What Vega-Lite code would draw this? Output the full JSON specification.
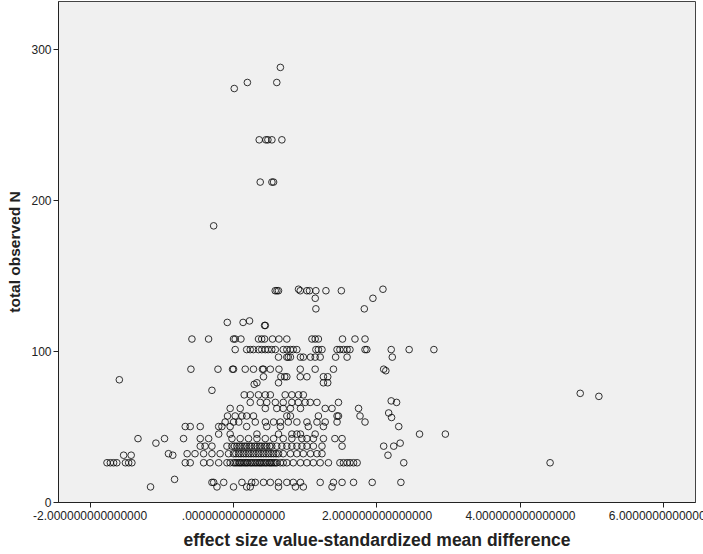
{
"$schema": "https://vega.github.io/schema/vega-lite/v6.json",
"autosize": {"type": "none"},
"padding": {"left": 58, "top": 1, "right": 8, "bottom": 51},
"width": 637,
"height": 501,
"background": "white",
"config": {
  "view": {"fill": "#f0f0f0", "stroke": "#444444", "strokeWidth": 1},
  "axis": {
    "grid": false,
    "domainColor": "#222222",
    "tickColor": "#222222",
    "tickSize": 5,
    "labelFont": "Liberation Sans",
    "labelFontSize": 12,
    "labelColor": "#222222",
    "labelFlush": false,
    "labelOverlap": false,
    "titleFont": "Liberation Sans",
    "titleFontWeight": "bold",
    "titleColor": "#222222"
  }
},
"data": {"values": [
{"d":0.66,"n":288},{"d":0.20,"n":278},{"d":0.017,"n":274},{"d":0.61,"n":278},
{"d":0.365,"n":240},{"d":0.458,"n":240},{"d":0.486,"n":240},{"d":0.542,"n":240},{"d":0.681,"n":240},
{"d":0.379,"n":212},{"d":0.542,"n":212},{"d":0.565,"n":212},
{"d":-0.27,"n":183},
{"d":0.588,"n":140},{"d":0.612,"n":140},{"d":0.634,"n":140},{"d":0.913,"n":141},{"d":0.937,"n":140},{"d":1.03,"n":140},{"d":1.066,"n":140},{"d":1.155,"n":140},{"d":1.295,"n":140},{"d":1.146,"n":135},{"d":1.51,"n":140},{"d":2.09,"n":141},{"d":1.95,"n":135},{"d":1.83,"n":128},{"d":1.155,"n":128},
{"d":-0.08,"n":119},{"d":0.14,"n":119},{"d":0.23,"n":120},{"d":0.44,"n":117},{"d":0.45,"n":117},
{"d":-0.573,"n":108},{"d":-0.341,"n":108},{"d":0.007,"n":108},{"d":0.03,"n":108},{"d":0.11,"n":108},{"d":0.355,"n":108},{"d":0.40,"n":108},{"d":0.44,"n":108},{"d":0.55,"n":108},{"d":0.64,"n":108},{"d":0.75,"n":108},{"d":1.10,"n":108},{"d":1.145,"n":108},{"d":1.19,"n":108},{"d":1.526,"n":108},{"d":1.70,"n":108},{"d":1.84,"n":108},
{"d":0.03,"n":101},{"d":0.19,"n":101},{"d":0.24,"n":101},{"d":0.285,"n":101},{"d":0.355,"n":101},{"d":0.40,"n":101},{"d":0.45,"n":101},{"d":0.49,"n":101},{"d":0.54,"n":101},{"d":0.59,"n":101},{"d":0.70,"n":101},{"d":0.75,"n":101},{"d":0.80,"n":101},{"d":0.84,"n":101},{"d":0.89,"n":101},{"d":1.155,"n":101},{"d":1.19,"n":101},{"d":1.24,"n":101},{"d":1.45,"n":101},{"d":1.49,"n":101},{"d":1.54,"n":101},{"d":1.59,"n":101},{"d":1.63,"n":101},{"d":1.84,"n":101},{"d":1.865,"n":101},{"d":2.205,"n":101},{"d":2.455,"n":101},{"d":2.80,"n":101},
{"d":0.634,"n":96},{"d":0.75,"n":96},{"d":0.77,"n":96},{"d":0.80,"n":96},{"d":0.94,"n":96},{"d":0.98,"n":96},{"d":1.08,"n":96},{"d":1.145,"n":96},{"d":1.215,"n":96},{"d":1.43,"n":96},{"d":1.59,"n":96},{"d":2.22,"n":96},
{"d":-0.587,"n":88},{"d":-0.21,"n":88},{"d":-0.007,"n":88},{"d":0.007,"n":88},{"d":0.17,"n":88},{"d":0.285,"n":88},{"d":0.41,"n":88},{"d":0.425,"n":88},{"d":0.52,"n":88},{"d":0.64,"n":88},{"d":0.937,"n":88},{"d":1.145,"n":88},{"d":1.40,"n":88},{"d":2.10,"n":88},{"d":2.13,"n":87},
{"d":0.425,"n":83},{"d":0.667,"n":83},{"d":0.72,"n":83},{"d":0.75,"n":83},{"d":0.937,"n":83},{"d":1.03,"n":83},{"d":1.26,"n":83},{"d":1.32,"n":83},
{"d":0.333,"n":79},{"d":0.295,"n":78},{"d":0.634,"n":79},{"d":1.26,"n":79},{"d":1.32,"n":79},
{"d":-0.294,"n":74},{"d":-1.585,"n":81},
{"d":0.156,"n":71},{"d":0.24,"n":71},{"d":0.355,"n":71},{"d":0.45,"n":71},{"d":0.52,"n":71},{"d":0.727,"n":71},{"d":0.82,"n":71},{"d":0.913,"n":71},{"d":0.98,"n":71},
{"d":0.24,"n":66},{"d":0.38,"n":66},{"d":0.47,"n":66},{"d":0.59,"n":66},{"d":0.70,"n":66},{"d":0.82,"n":66},{"d":0.91,"n":66},{"d":1.006,"n":66},{"d":1.076,"n":66},{"d":1.17,"n":66},{"d":1.47,"n":66},{"d":2.205,"n":67},{"d":2.28,"n":66},
{"d":-0.04,"n":62},{"d":0.1,"n":62},{"d":0.45,"n":62},{"d":0.61,"n":62},{"d":0.70,"n":62},{"d":0.80,"n":62},{"d":0.94,"n":62},{"d":1.285,"n":62},{"d":1.38,"n":62},{"d":1.75,"n":62},
{"d":-0.077,"n":57},{"d":0.03,"n":57},{"d":0.124,"n":57},{"d":0.19,"n":57},{"d":0.285,"n":57},{"d":0.75,"n":57},{"d":0.80,"n":57},{"d":1.19,"n":57},{"d":1.45,"n":57},{"d":1.47,"n":57},{"d":1.77,"n":57},{"d":2.17,"n":59},{"d":2.21,"n":56},
{"d":-0.11,"n":53},{"d":0.007,"n":53},{"d":0.08,"n":53},{"d":0.31,"n":53},{"d":0.45,"n":53},{"d":0.565,"n":53},{"d":0.66,"n":53},{"d":0.77,"n":53},{"d":0.89,"n":53},{"d":1.03,"n":53},{"d":1.17,"n":53},{"d":1.285,"n":53},{"d":1.45,"n":53},{"d":1.84,"n":53},
{"d":-0.666,"n":50},{"d":-0.597,"n":50},{"d":-0.457,"n":50},{"d":-0.20,"n":50},{"d":-0.155,"n":50},{"d":-0.04,"n":50},{"d":0.19,"n":50},{"d":0.47,"n":50},{"d":0.66,"n":50},{"d":1.05,"n":50},{"d":1.26,"n":50},{"d":2.31,"n":50},
{"d":-0.2,"n":45},{"d":-0.04,"n":45},{"d":0.333,"n":45},{"d":0.634,"n":45},{"d":0.82,"n":45},{"d":0.89,"n":45},{"d":0.94,"n":45},{"d":1.145,"n":45},{"d":2.60,"n":45},{"d":2.96,"n":45},
{"d":-0.69,"n":42},{"d":-0.457,"n":42},{"d":-0.34,"n":42},{"d":-0.015,"n":42},{"d":0.10,"n":42},{"d":0.216,"n":42},{"d":0.333,"n":42},{"d":0.45,"n":42},{"d":0.565,"n":42},{"d":0.70,"n":42},{"d":0.82,"n":42},{"d":0.96,"n":42},{"d":1.03,"n":42},{"d":1.12,"n":42},{"d":1.26,"n":42},{"d":1.42,"n":42},{"d":1.52,"n":42},{"d":-1.325,"n":42},{"d":-0.955,"n":42},{"d":-1.075,"n":39},
{"d":-0.457,"n":37},{"d":-0.39,"n":37},{"d":-0.294,"n":37},{"d":-0.085,"n":37},{"d":-0.015,"n":37},{"d":0.054,"n":37},{"d":0.124,"n":37},{"d":0.19,"n":37},{"d":0.26,"n":37},{"d":0.333,"n":37},{"d":0.40,"n":37},{"d":0.47,"n":37},{"d":0.54,"n":37},{"d":0.61,"n":37},{"d":0.68,"n":37},{"d":0.75,"n":37},{"d":0.82,"n":37},{"d":0.89,"n":37},{"d":0.96,"n":37},{"d":1.03,"n":37},{"d":1.12,"n":37},{"d":1.24,"n":37},{"d":1.52,"n":37},{"d":2.10,"n":37},{"d":2.24,"n":37},{"d":2.33,"n":39},
{"d":0.02,"n":37},{"d":0.09,"n":37},{"d":0.16,"n":37},{"d":0.23,"n":37},{"d":0.30,"n":37},{"d":0.37,"n":37},{"d":0.44,"n":37},{"d":0.51,"n":37},
{"d":-0.64,"n":32},{"d":-0.53,"n":32},{"d":-0.41,"n":32},{"d":-0.294,"n":32},{"d":-0.18,"n":32},{"d":-0.063,"n":32},{"d":0.007,"n":32},{"d":0.077,"n":32},{"d":0.146,"n":32},{"d":0.216,"n":32},{"d":0.285,"n":32},{"d":0.355,"n":32},{"d":0.425,"n":32},{"d":0.495,"n":32},{"d":0.565,"n":32},{"d":0.634,"n":32},{"d":0.70,"n":32},{"d":0.80,"n":32},{"d":0.89,"n":32},{"d":0.98,"n":32},{"d":1.08,"n":32},{"d":1.17,"n":32},{"d":1.24,"n":32},{"d":2.16,"n":31},{"d":-0.90,"n":32},{"d":-0.84,"n":31},{"d":-1.525,"n":31},{"d":-1.42,"n":31},
{"d":0.04,"n":32},{"d":0.11,"n":32},{"d":0.18,"n":32},{"d":0.25,"n":32},{"d":0.32,"n":32},{"d":0.39,"n":32},{"d":0.46,"n":32},{"d":0.53,"n":32},{"d":0.60,"n":32},
{"d":-0.666,"n":26},{"d":-0.597,"n":26},{"d":-0.41,"n":26},{"d":-0.32,"n":26},{"d":-0.20,"n":26},{"d":-0.085,"n":26},{"d":-0.04,"n":26},{"d":0.007,"n":26},{"d":0.054,"n":26},{"d":0.10,"n":26},{"d":0.146,"n":26},{"d":0.19,"n":26},{"d":0.24,"n":26},{"d":0.285,"n":26},{"d":0.333,"n":26},{"d":0.38,"n":26},{"d":0.425,"n":26},{"d":0.47,"n":26},{"d":0.52,"n":26},{"d":0.565,"n":26},{"d":0.61,"n":26},{"d":0.66,"n":26},{"d":0.70,"n":26},{"d":0.75,"n":26},{"d":0.84,"n":26},{"d":0.94,"n":26},{"d":1.03,"n":26},{"d":1.12,"n":26},{"d":1.215,"n":26},{"d":1.33,"n":26},{"d":1.49,"n":26},{"d":1.54,"n":26},{"d":1.59,"n":26},{"d":1.63,"n":26},{"d":1.68,"n":26},{"d":1.73,"n":26},
{"d":0.03,"n":26},{"d":0.08,"n":26},{"d":0.12,"n":26},{"d":0.17,"n":26},{"d":0.21,"n":26},{"d":0.26,"n":26},{"d":0.31,"n":26},{"d":0.36,"n":26},{"d":0.40,"n":26},{"d":0.45,"n":26},{"d":0.50,"n":26},{"d":0.54,"n":26},{"d":0.59,"n":26},
{"d":-1.757,"n":26},{"d":-1.71,"n":26},{"d":-1.665,"n":26},{"d":-1.62,"n":26},{"d":-1.50,"n":26},{"d":-1.455,"n":26},{"d":-1.41,"n":26},{"d":2.38,"n":26},{"d":4.42,"n":26},
{"d":-0.294,"n":13},{"d":-0.27,"n":13},{"d":-0.13,"n":13},{"d":0.124,"n":13},{"d":0.26,"n":13},{"d":0.31,"n":13},{"d":0.425,"n":13},{"d":0.52,"n":13},{"d":0.634,"n":13},{"d":0.75,"n":13},{"d":0.84,"n":13},{"d":0.94,"n":13},{"d":1.215,"n":13},{"d":1.40,"n":13},{"d":1.52,"n":13},{"d":1.68,"n":13},{"d":1.94,"n":13},{"d":2.34,"n":13},{"d":-0.815,"n":15},
{"d":-0.224,"n":10},{"d":0.007,"n":10},{"d":0.19,"n":10},{"d":0.24,"n":10},{"d":0.634,"n":10},{"d":0.87,"n":10},{"d":0.98,"n":10},{"d":1.38,"n":10},{"d":-1.15,"n":10},
{"d":4.84,"n":72},{"d":5.10,"n":70}
]},
"mark": {"type": "point", "shape": "circle", "filled": false, "stroke": "#000000", "strokeWidth": 1, "opacity": 0.8, "size": 44},
"encoding": {
  "x": {"field": "d", "type": "quantitative",
    "scale": {"domain": [-2.44, 6.44], "nice": false, "zero": false},
    "axis": {"values": [-2, 0, 2, 4, 6], "labelExpr": "(datum.value == 0 ? '' : datum.value) + '.000000000000000'", "labelPadding": 3, "title": "effect size value-standardized mean difference", "titleFontSize": 17.5, "titlePadding": 10}},
  "y": {"field": "n", "type": "quantitative",
    "scale": {"domain": [0, 332], "nice": false, "zero": true},
    "axis": {"values": [0, 100, 200, 300], "labelPadding": 2, "title": "total observed N", "titleFontSize": 15.5, "titlePadding": 8}}
}
}
